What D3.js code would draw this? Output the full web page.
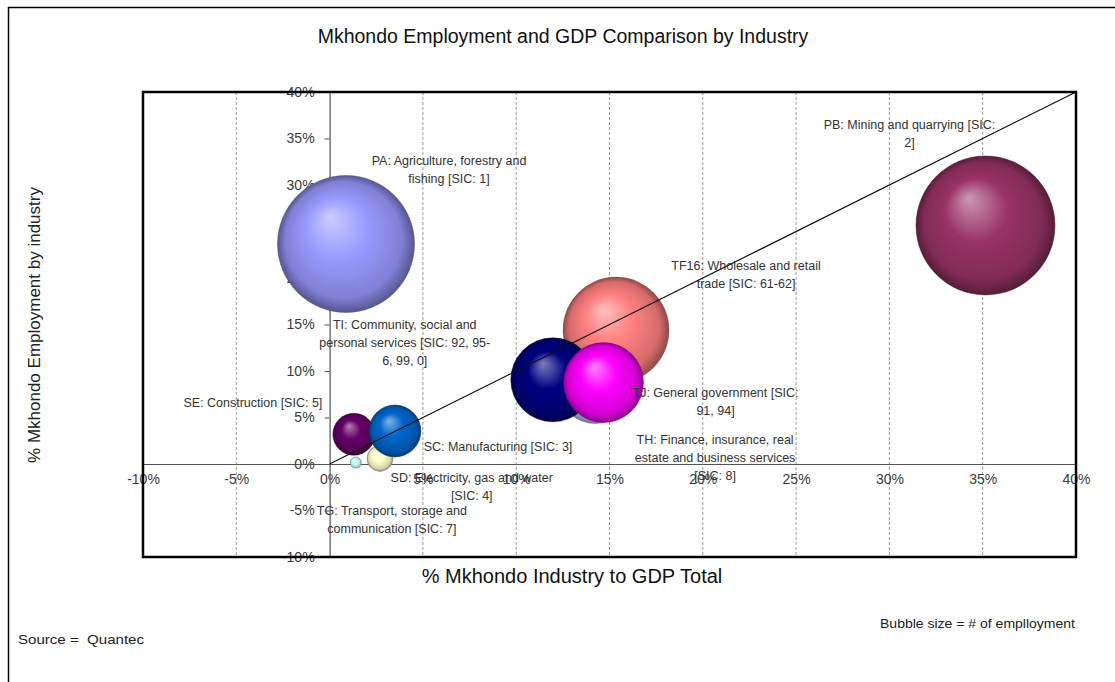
<!DOCTYPE html>
<html>
<head>
<meta charset="utf-8">
<script src="https://cdn.jsdelivr.net/npm/d3@7"></script>
<style>
  html, body { margin: 0; padding: 0; background: #fff; }
  svg { display: block; font-family: "Liberation Sans", Arial, sans-serif; }
</style>
</head>
<body>
<svg id="chart" width="1115" height="682"></svg>
<script>
// Industry codes and their label text (one line per array entry)
const codes = ["PA", "PB", "SC", "SD", "SE", "TF16", "TG", "TH", "TI", "TJ"];
const labelLines = [
  ["PA: Agriculture, forestry and", "fishing [SIC: 1]"],
  ["PB: Mining and quarrying [SIC:", "2]"],
  ["SC: Manufacturing [SIC: 3]"],
  ["SD: Electricity, gas and water", "[SIC: 4]"],
  ["SE: Construction [SIC: 5]"],
  ["TF16: Wholesale and retail", "trade [SIC: 61-62]"],
  ["TG: Transport, storage and", "communication [SIC: 7]"],
  ["TH: Finance, insurance, real", "estate and business services", "[SIC: 8]"],
  ["TI: Community, social and", "personal services [SIC: 92, 95-", "6, 99, 0]"],
  ["TJ: General government [SIC:", "91, 94]"]
];
// Share of the municipal GDP total (x) and of employment (y)
const gdpShare = [0.0088, 0.3515, 0.027, 0.014, 0.013, 0.1535, 0.035, 0.1423, 0.1196, 0.1468];
const employmentShare = [0.2366, 0.2565, 0.006, 0.0015, 0.032, 0.144, 0.0355, 0.0825, 0.0905, 0.0876];
// Number of people employed (bubble size)
const employment = [7510, 7730, 270, 50, 705, 4490, 1080, 2100, 2820, 2560];
// Excel-style bubble fill palette
const fills = ["#9999FF", "#993366", "#FFFFCC", "#CCFFFF", "#660066", "#FF8080", "#0066CC", "#CCCCFF", "#000080", "#FF00FF"];
// Axis ticks
const xTicks = [-0.10, -0.05, 0, 0.05, 0.10, 0.15, 0.20, 0.25, 0.30, 0.35, 0.40];
const yTicks = [-0.10, -0.05, 0, 0.05, 0.10, 0.15, 0.20, 0.25, 0.30, 0.35, 0.40];

// Label placement, pixel offsets from the bubble centre to the first line
const labelOffsets = [
  [103, -83], [-76, -101], [118, -12], [116, 15], [-101, -32],
  [130, -65], [-3, 80], [120, 52], [-148, -55], [112, 10]
];

const svg = d3.select("#chart");
const plot = { left: 143, right: 1076, top: 92, bottom: 557 };

const x = d3.scaleLinear().domain([-0.10, 0.40]).range([plot.left, plot.right]);
const y = d3.scaleLinear().domain([-0.10, 0.40]).range([plot.bottom, plot.top]);
const r = d3.scaleSqrt().domain([0, d3.max(employment)]).range([0, 69.5]);
// Percent labels with a plain hyphen for negatives
const pct = v => d3.format(".0%")(v).replace("\u2212", "-");

// Outer chart frame
svg.append("rect")
  .attr("x", 8.5).attr("y", 7.5).attr("width", 1130).attr("height", 700)
  .attr("fill", "none").attr("stroke", "#000").attr("stroke-width", 1.5);

// Title
svg.append("text")
  .attr("x", 563).attr("y", 43).attr("text-anchor", "middle")
  .attr("font-size", 19.5).attr("fill", "#111")
  .text("Mkhondo Employment and GDP Comparison by Industry");

// Vertical gridlines
svg.append("g").selectAll("line")
  .data(xTicks.filter(t => t !== 0 && t > -0.10 && t < 0.40))
  .join("line")
  .attr("x1", d => x(d)).attr("x2", d => x(d))
  .attr("y1", plot.top).attr("y2", plot.bottom)
  .attr("stroke", "#9a9a9a").attr("stroke-width", 1)
  .attr("stroke-dasharray", "3,2");

// Axes crossing at zero
const xAxis = d3.axisBottom(x).tickValues(xTicks).tickFormat(pct).tickSize(0).tickPadding(10);
const yAxis = d3.axisLeft(y).tickValues(yTicks).tickFormat(pct).tickSize(5).tickPadding(10);

const gx = svg.append("g").attr("transform", `translate(0,${y(0)})`).call(xAxis);
gx.select(".domain").attr("stroke", "#555").attr("stroke-width", 1.2);
gx.selectAll("text").attr("font-size", 14).attr("fill", "#3a3a3a")
  .attr("font-family", "'Liberation Sans', Arial, sans-serif");

const gy = svg.append("g").attr("transform", `translate(${x(0)},0)`).call(yAxis);
gy.select(".domain").attr("stroke", "#555").attr("stroke-width", 1.2);
gy.selectAll(".tick line").attr("stroke", "#555");
gy.selectAll("text").attr("font-size", 14).attr("fill", "#3a3a3a")
  .attr("font-family", "'Liberation Sans', Arial, sans-serif");

// Sphere-like gradients for the bubbles
const defs = svg.append("defs");
fills.forEach((c, i) => {
  const g = defs.append("radialGradient")
    .attr("id", "sphere" + i)
    .attr("cx", "50%").attr("cy", "50%").attr("r", "50%")
    .attr("fx", "38%").attr("fy", "30%");
  const base = d3.color(c);
  g.append("stop").attr("offset", "0%").attr("stop-color", d3.interpolateRgb(c, "#fff")(0.5));
  g.append("stop").attr("offset", "45%").attr("stop-color", base.formatHex());
  g.append("stop").attr("offset", "85%").attr("stop-color", base.darker(0.5).formatHex());
  g.append("stop").attr("offset", "100%").attr("stop-color", base.darker(1.6).formatHex());
});

// Bubbles, drawn in data order
const rows = codes.map((code, i) => ({
  code, i, gx: gdpShare[i], ey: employmentShare[i], emp: employment[i]
}));

svg.append("g").selectAll("circle")
  .data(rows)
  .join("circle")
  .attr("cx", d => x(d.gx))
  .attr("cy", d => y(d.ey))
  .attr("r", d => r(d.emp))
  .attr("fill", d => `url(#sphere${d.i})`)
  .attr("stroke", d => d3.color(fills[d.i]).darker(2).formatHex())
  .attr("stroke-opacity", 0.6)
  .attr("stroke-width", 0.8);

// Equal-share reference line
svg.append("line")
  .attr("x1", x(0)).attr("y1", y(0))
  .attr("x2", x(0.40)).attr("y2", y(0.40))
  .attr("stroke", "#111").attr("stroke-width", 1.2);

// Data labels
const lab = svg.append("g");
rows.forEach(d => {
  const cx = x(d.gx) + labelOffsets[d.i][0];
  const cy = y(d.ey) + labelOffsets[d.i][1];
  const t = lab.append("text")
    .attr("text-anchor", "middle")
    .attr("font-size", 12.5).attr("fill", "#333");
  labelLines[d.i].forEach((line, k) => {
    t.append("tspan").attr("x", cx).attr("y", cy + 4.5 + k * 18).text(line);
  });
});

// Plot area border
svg.append("rect")
  .attr("x", plot.left).attr("y", plot.top)
  .attr("width", plot.right - plot.left).attr("height", plot.bottom - plot.top)
  .attr("fill", "none").attr("stroke", "#000").attr("stroke-width", 2.5);

// Axis titles
svg.append("text")
  .attr("x", 572).attr("y", 583).attr("text-anchor", "middle")
  .attr("font-size", 20).attr("fill", "#111")
  .text("% Mkhondo Industry to GDP Total");

svg.append("text")
  .attr("transform", "translate(40,325) rotate(-90)")
  .attr("text-anchor", "middle")
  .attr("font-size", 17).attr("fill", "#222")
  .text("% Mkhondo Employment by industry");

// Footnotes
svg.append("text")
  .attr("x", 18).attr("y", 644)
  .attr("font-size", 12).attr("fill", "#222")
  .attr("textLength", 126).attr("lengthAdjust", "spacingAndGlyphs")
  .text("Source =\u00a0 Quantec");

svg.append("text")
  .attr("x", 880).attr("y", 628)
  .attr("font-size", 12).attr("fill", "#222")
  .attr("textLength", 195).attr("lengthAdjust", "spacingAndGlyphs")
  .text("Bubble size = # of emplloyment");
</script>
</body>
</html>
